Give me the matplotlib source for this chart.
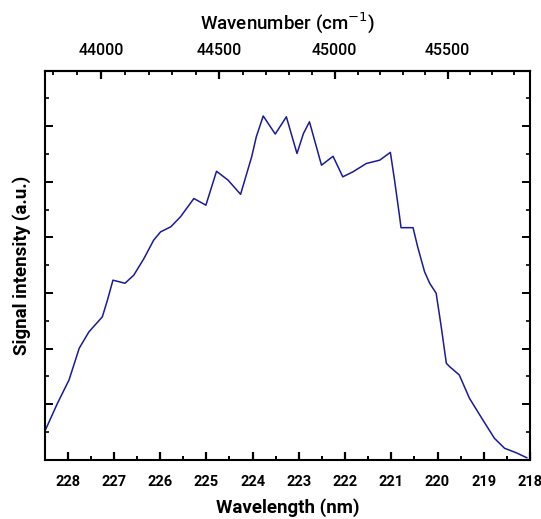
import numpy as np
import matplotlib
matplotlib.use("Agg")
import matplotlib.pyplot as plt
from matplotlib.ticker import MultipleLocator, FixedLocator

# Data
wavelength_nm = [228.50, 228.22, 227.97, 227.75, 227.54, 227.25, 227.14, 227.02,
                 226.76, 226.57, 226.35, 226.14, 225.99, 225.77, 225.56, 225.27,
                 225.01, 224.78, 224.53, 224.26, 224.02, 223.92, 223.77, 223.51,
                 223.27, 223.04, 222.90, 222.77, 222.51, 222.26, 222.05, 221.83,
                 221.54, 221.25, 221.02, 220.93, 220.82, 220.79, 220.53, 220.43,
                 220.28, 220.17, 220.03, 219.92, 219.81, 219.74, 219.53, 219.31,
                 219.02, 218.77, 218.55, 218.30, 218.07]
signal = [1.00, 2.03, 2.87, 4.01, 4.60, 5.14, 5.74, 6.46,
          6.35, 6.64, 7.24, 7.90, 8.20, 8.38, 8.74, 9.40,
          9.16, 10.38, 10.06, 9.55, 10.90, 11.62, 12.37, 11.72,
          12.34, 11.02, 11.74, 12.16, 10.60, 10.92, 10.18, 10.36,
          10.66, 10.78, 11.06, 10.06, 8.74, 8.35, 8.35, 7.66,
          6.76, 6.35, 5.99, 4.78, 3.47, 3.35, 3.05, 2.21,
          1.43, 0.77, 0.41, 0.25, 0.07]
bottom_ticks = [228, 227, 226, 225, 224, 223, 222, 221, 220, 219, 218]
top_ticks = [44000, 44500, 45000, 45500]

plt.rcParams["font.family"] = ["Roboto", "DejaVu Sans"]

fig = plt.figure(figsize=(5.41, 5.19), dpi=100)
ax = fig.add_axes([0.0823, 0.1143, 0.8974, 0.7495])

ax.plot(wavelength_nm, signal, color="#1a1a9a", lw=1.1)
ax.set_xlim(228.5, 218)
ax.set_ylim(0, 14)

ax.xaxis.set_major_locator(FixedLocator(bottom_ticks))
ax.xaxis.set_minor_locator(MultipleLocator(0.5))
ax.yaxis.set_major_locator(MultipleLocator(2))
ax.yaxis.set_minor_locator(MultipleLocator(1))

ax.tick_params(axis="x", which="major", direction="in", length=6, width=1.6,
               bottom=True, top=False, labelsize=10.5, pad=11)
ax.tick_params(axis="x", which="minor", direction="in", length=3, width=1.4,
               bottom=True, top=False)
ax.tick_params(axis="y", which="major", direction="in", length=6, width=1.4,
               left=True, right=True, labelleft=False)
ax.tick_params(axis="y", which="minor", direction="in", length=3, width=1.2,
               left=True, right=True)
for lab in ax.get_xticklabels():
    lab.set_fontweight("bold")

for s in ax.spines.values():
    s.set_linewidth(1.5)

sec = ax.secondary_xaxis("top", functions=(lambda x: 1e7 / x, lambda x: 1e7 / x))
sec.xaxis.set_major_locator(FixedLocator(top_ticks))
sec.xaxis.set_minor_locator(MultipleLocator(100))
sec.tick_params(axis="x", which="major", direction="in", length=6, width=1.6,
                labelsize=11.5, pad=9)
sec.tick_params(axis="x", which="minor", direction="in", length=3, width=1.3)
for lab in sec.get_xticklabels():
    lab.set_fontweight("medium")
sec.spines["top"].set_linewidth(1.5)
sec.set_xlabel("Wavenumber (cm$^{-1}$)", fontsize=13.5, fontweight="medium",
               va="center")
sec.xaxis.set_label_coords(0.5, 1.1226, transform=ax.transAxes)

ax.set_xlabel("Wavelength (nm)", fontsize=13.5, fontweight="bold", va="center")
ax.xaxis.set_label_coords(0.5, -0.124)
ax.set_ylabel("Signal intensity (a.u.)", fontsize=13.5, fontweight="bold",
              va="center", ha="center")
ax.yaxis.set_label_coords(-0.0463, 0.5)

fig.savefig("out.png", dpi=100)
